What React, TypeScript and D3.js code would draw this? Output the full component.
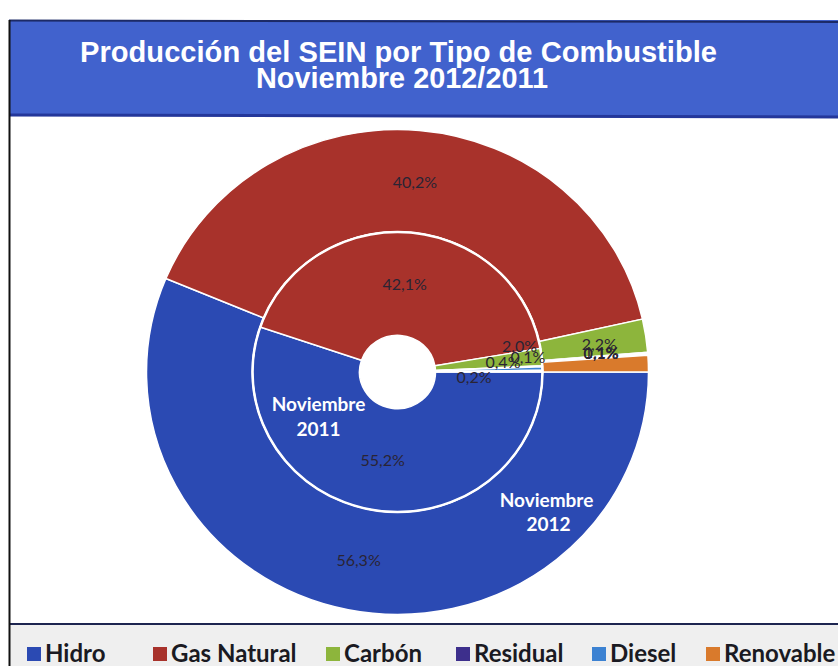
import React from "react";
import * as d3 from "d3";

const categories = ["Hidro", "Gas Natural", "Carbón", "Residual", "Diesel", "Renovable"];
const values2011 = [55.2, 42.1, 2.0, 0.1, 0.4, 0.2];
const values2012 = [56.3, 40.2, 2.2, 0.1, 0.1, 1.1];
const seriesNames = ["Noviembre 2011", "Noviembre 2012"];
const titleLines = ["Producción del SEIN por Tipo de Combustible", "Noviembre 2012/2011"];

const colors = ["#2b4ab3", "#a8322b", "#8db53c", "#3d2f8c", "#3c82d2", "#d97a2c"];

// label nudges (layout only)
const nudge2011: [number, number][] = [[0, 0], [0, 0], [31, -17], [39, -12], [14, -8], [-15, 5]];
const nudge2012: [number, number][] = [[0, 0], [0, 0], [6, 0], [6, -5], [6, -6], [6, -14]];

const W = 838, H = 666;
const cx = 397.5, cy = 372;
const sy = 0.966; // vertical squash of the scanned original
const rHole = 38, rMid = 145, rOut = 251;

function fmt(v: number) {
  return v.toFixed(1).replace(".", ",") + "%";
}

export default function App() {
  const pie = d3.pie<number>().sort(null).startAngle(Math.PI / 2).endAngle(Math.PI / 2 + 2 * Math.PI);
  const arcs2011 = pie(values2011);
  const arcs2012 = pie(values2012);
  const arcInner = d3.arc<d3.PieArcDatum<number>>().innerRadius(rHole).outerRadius(rMid);
  const arcOuter = d3.arc<d3.PieArcDatum<number>>().innerRadius(rMid).outerRadius(rOut);

  const legendX = [27, 153, 326, 456, 592, 706];
  const labelStyle = { fill: "#2a2434", fontFamily: "Lato, sans-serif", fontSize: 16 } as const;
  const nameStyle = { fill: "#fff", fontFamily: "Lato, sans-serif", fontWeight: "bold", fontSize: 19 } as const;

  return (
    <svg width={W} height={H} style={{ position: "absolute", left: 0, top: 0, background: "#fff" }}>
      <rect x={0} y={0} width={W} height={H} fill="#ffffff" />
      {/* title bar */}
      <rect x={9} y={20} width={W} height={96} fill="#4162cd" />
      <line x1={9} y1={20.5} x2={W} y2={22} stroke="#1c2a66" strokeWidth={2} />
      <line x1={9} y1={115} x2={W} y2={117} stroke="#24379a" strokeWidth={3} />
      <text x={398.5} y={62} textAnchor="middle" fill="#fff" fontFamily="Liberation Sans, Arial, sans-serif" fontWeight="bold" fontSize={29}
        textLength={637} lengthAdjust="spacingAndGlyphs">{titleLines[0]}</text>
      <text x={402} y={88} textAnchor="middle" fill="#fff" fontFamily="Liberation Sans, Arial, sans-serif" fontWeight="bold" fontSize={29}
        textLength={292} lengthAdjust="spacingAndGlyphs">{titleLines[1]}</text>

      {/* legend area */}
      <rect x={9} y={625} width={W} height={H - 625} fill="#efefef" />
      <line x1={9} y1={624} x2={W} y2={624} stroke="#1d2550" strokeWidth={2} />
      <line x1={9.5} y1={20} x2={9.5} y2={H} stroke="#111" strokeWidth={2} />

      {/* donut */}
      <g transform={`translate(${cx},${cy}) scale(1,${sy})`}>
        {arcs2012.map((a, i) => (
          <path key={"o" + i} d={arcOuter(a) as string} fill={colors[i]} stroke="#fff" strokeWidth={1.5} />
        ))}
        {arcs2011.map((a, i) => (
          <path key={"i" + i} d={arcInner(a) as string} fill={colors[i]} stroke="#fff" strokeWidth={1.5} />
        ))}
        <circle r={rMid} fill="none" stroke="#fff" strokeWidth={2.5} />
      </g>
      <g transform={`translate(${cx},${cy})`}>
        {arcs2012.map((a, i) => {
          const [x, y] = arcOuter.centroid(a);
          return (
            <text key={"lo" + i} x={x + nudge2012[i][0]} y={y * sy + nudge2012[i][1]} textAnchor="middle" dominantBaseline="central"
              {...labelStyle}>{fmt(values2012[i])}</text>
          );
        })}
        {arcs2011.map((a, i) => {
          const [x, y] = arcInner.centroid(a);
          return (
            <text key={"li" + i} x={x + nudge2011[i][0]} y={y * sy + nudge2011[i][1]} textAnchor="middle" dominantBaseline="central"
              {...labelStyle}>{fmt(values2011[i])}</text>
          );
        })}
        {/* series name labels */}
        <text x={-79} y={39} textAnchor="middle" {...nameStyle}>{seriesNames[0].split(" ")[0]}</text>
        <text x={-79} y={64} textAnchor="middle" {...nameStyle}>{seriesNames[0].split(" ")[1]}</text>
        <text x={149} y={135} textAnchor="middle" {...nameStyle}>{seriesNames[1].split(" ")[0]}</text>
        <text x={151} y={159} textAnchor="middle" {...nameStyle}>{seriesNames[1].split(" ")[1]}</text>
      </g>

      {/* legend */}
      {categories.map((c, i) => (
        <g key={"lg" + i}>
          <rect x={legendX[i]} y={647} width={14} height={14} fill={colors[i]} />
          <text x={legendX[i] + 18} y={662} fill="#1a1a22" fontFamily="Lato, sans-serif" fontWeight="bold" fontSize={24}>{c}</text>
        </g>
      ))}
    </svg>
  );
}
